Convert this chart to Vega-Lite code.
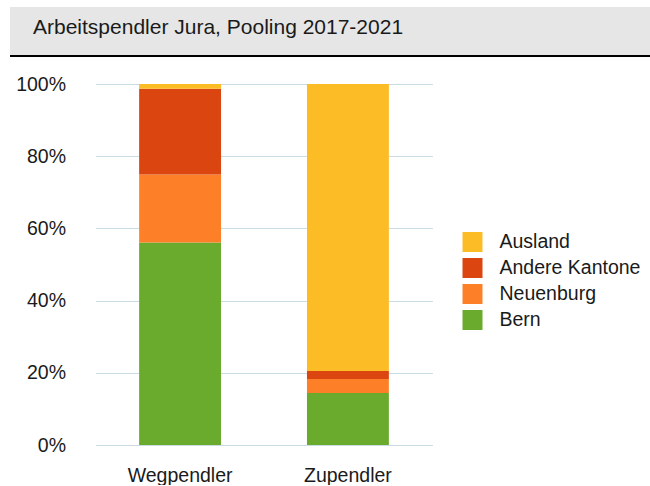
{
  "$schema": "https://vega.github.io/schema/vega-lite/v6.json",
  "padding": {"left": 9, "top": 7, "right": 0, "bottom": 0},
  "autosize": {"type": "pad"},
  "spacing": 17,
  "center": true,
  "resolve": {"legend": {"color": "independent"}},
  "config": {
    "view": {"stroke": null},
    "font": "Liberation Sans",
    "axis": {"labelFont": "Liberation Sans", "labelColor": "#1a1a1a"},
    "legend": {"labelFont": "Liberation Sans", "labelColor": "#1a1a1a"}
  },
  "vconcat": [
    {
      "width": 715,
      "height": 49,
      "view": {"fill": "#e6e6e6", "stroke": null},
      "data": {"values": [{"title": "Arbeitspendler Jura, Pooling 2017-2021", "pos": 0}]},
      "layer": [
        {
          "mark": {"type": "rule", "color": "#000000", "strokeWidth": 2},
          "encoding": {
            "y": {"field": "pos", "type": "quantitative", "scale": {"domain": [0, 1]}, "axis": null}
          }
        },
        {
          "mark": {"type": "text", "align": "left", "baseline": "alphabetic", "fontSize": 21, "dx": 23, "dy": 2, "color": "#1a1a1a"},
          "encoding": {
            "text": {"field": "title"},
            "x": {"field": "pos", "type": "quantitative", "scale": {"domain": [0, 1]}, "axis": null}
          }
        }
      ]
    },
    {
      "width": 337,
      "height": 361,
      "data": {
        "values": [
          {"richtung": "Wegpendler", "region": "Bern", "anteil": 0.561, "rang": 1},
          {"richtung": "Wegpendler", "region": "Neuenburg", "anteil": 0.188, "rang": 2},
          {"richtung": "Wegpendler", "region": "Andere Kantone", "anteil": 0.238, "rang": 3},
          {"richtung": "Wegpendler", "region": "Ausland", "anteil": 0.013, "rang": 4},
          {"richtung": "Zupendler", "region": "Bern", "anteil": 0.144, "rang": 1},
          {"richtung": "Zupendler", "region": "Neuenburg", "anteil": 0.039, "rang": 2},
          {"richtung": "Zupendler", "region": "Andere Kantone", "anteil": 0.022, "rang": 3},
          {"richtung": "Zupendler", "region": "Ausland", "anteil": 0.795, "rang": 4}
        ]
      },
      "mark": {"type": "bar"},
      "encoding": {
        "x": {
          "field": "richtung", "type": "nominal", "sort": ["Wegpendler", "Zupendler"],
          "scale": {"paddingInner": 0.512, "paddingOuter": 0.26},
          "axis": {"title": null, "labelAngle": 0, "domain": false, "ticks": false, "tickSize": 0, "labelPadding": 21, "labelFontSize": 19.5, "grid": false}
        },
        "y": {
          "field": "anteil", "type": "quantitative", "stack": "zero",
          "scale": {"domain": [0, 1]},
          "axis": {"title": null, "format": ".0%", "values": [0, 0.2, 0.4, 0.6, 0.8, 1], "domain": false, "ticks": false, "tickSize": 0, "labelPadding": 30, "labelFontSize": 19.5, "gridColor": "#c9dbe3", "gridWidth": 1.2, "minExtent": 86}
        },
        "color": {
          "field": "region", "type": "nominal",
          "scale": {"domain": ["Ausland", "Andere Kantone", "Neuenburg", "Bern"], "range": ["#fbbc26", "#db450f", "#fd8029", "#6aaa2d"]},
          "legend": {"title": null, "orient": "none", "legendX": 367, "legendY": 148, "padding": 0, "symbolType": "square", "symbolSize": 400, "symbolStrokeWidth": 0, "symbolOpacity": 1, "labelFontSize": 19.5, "rowPadding": 6, "labelOffset": 17}
        },
        "order": {"field": "rang", "type": "quantitative"}
      }
    }
  ]
}
